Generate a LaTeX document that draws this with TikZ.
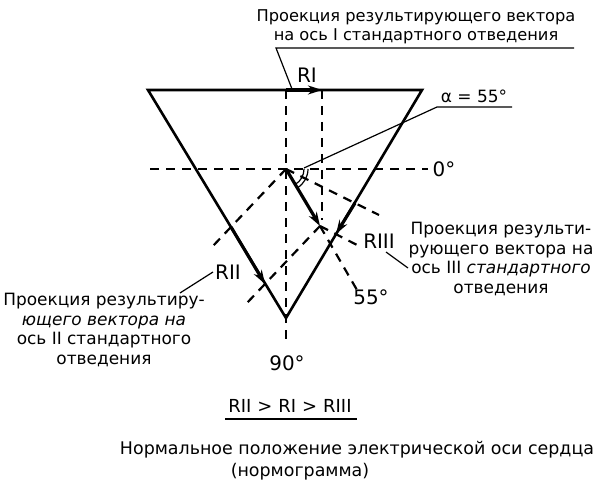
\documentclass[tikz,border=0pt]{standalone}
\usepackage{fontspec}
\setmainfont[FakeBold=0]{DejaVu Sans}
\usetikzlibrary{arrows.meta,calc}
\begin{document}
\begin{tikzpicture}[x=1bp,y=-1bp,
  side/.style={line width=2.6bp},
  dsh/.style={line width=2.2bp,dash pattern=on 9bp off 7bp},
  vec/.style={line width=3.2bp,-{Stealth[length=14bp,width=9bp]}},
  lead/.style={line width=1.2bp},
  txt/.style={inner sep=0pt,font=\fontsize{17}{20}\selectfont},
  toptxt/.style={inner sep=0pt,font=\fontsize{16.3}{19.5}\selectfont},
  captxt/.style={inner sep=0pt,font=\fontsize{17.5}{21}\selectfont},
  lbl/.style={inner sep=0pt,font=\fontsize{20}{22}\selectfont}]
\useasboundingbox (0,0) rectangle (600,498);
% triangle
\coordinate (A) at (148,90);
\coordinate (B) at (422,90);
\coordinate (C) at (286,318);
\coordinate (O) at (286,169);
\coordinate (E) at (320,226);
\draw[side,line join=miter] (A) -- (B) -- (C) -- cycle;
% axes
\coordinate (H0) at (150,169);
\coordinate (H1) at (428,169);
\coordinate (V0) at (286,90);
\coordinate (V1) at (286,346);
\coordinate (W0) at (322,90);
\coordinate (W1) at (322,220);
\draw[dsh] (H0) -- (H1);
\draw[dsh] (V0) -- (V1);
\draw[dsh] (W0) -- (W1);
% projections on lead II (left side)
\coordinate (F2a) at (231,227);
\coordinate (F2b) at (265,284);
\coordinate (G2a) at (212,247);
\coordinate (G2b) at (246,304);
\draw[dsh] (O) -- (G2a);
\draw[dsh] (E) -- (G2b);
% projections on lead III (right side)
\coordinate (F3a) at (355,203);
\coordinate (F3b) at (336,234);
\coordinate (G3a) at (379,215);
\coordinate (G3b) at (359,246);
\draw[dsh] (O) -- (G3a);
\draw[dsh] (E) -- (G3b);
% extension of the axis
\coordinate (X) at (357,290);
\draw[dsh] (E) -- (X);
% vectors
\draw[vec] (O) -- (E);
\draw[vec] (V0) -- (W0);
\draw[vec] (F2a) -- (F2b);
\draw[vec] (F3a) -- (F3b);
% angle arcs
\draw[lead] ($(O)+(18,0)$) arc[start angle=0,end angle=59,radius=18];
\draw[lead] ($(O)+(22,0)$) arc[start angle=0,end angle=59,radius=22];
% labels
\node[toptxt,align=center] (top) at (416,27) {Проекция результирующего вектора\\на ось I стандартного отведения};
\coordinate (T0) at (276,48);
\coordinate (T1) at (574,48);
\coordinate (T2) at (292,89);
\draw[lead] (T1) -- (T0) -- (T2);
\node[lbl] (RI) at (307,75) {RI};
\node[inner sep=0pt,font=\fontsize{17}{20}\selectfont] (alpha) at (474,96) {α = 55°};
\coordinate (L0) at (304,168);
\coordinate (L1) at (437,107);
\coordinate (L2) at (512,107);
\draw[lead] (L0) -- (L1) -- (L2);
\node[lbl] (zero) at (444,169) {0°};
\node[lbl] (n55) at (371,297) {55°};
\node[lbl] (n90) at (287,363) {90°};
\node[lbl] (RIII) at (379,241) {RIII};
\coordinate (R3a) at (386,252);
\coordinate (R3b) at (408,268);
\draw[lead] (R3a) -- (R3b);
\node[txt,align=center] (rtext) at (501,259) {Проекция результи-\\рующего вектора на\\ось III {\itshape стандартного}\\отведения};
\node[lbl] (RII) at (228,272) {RII};
\coordinate (R2a) at (213,272);
\coordinate (R2b) at (180,293);
\draw[lead] (R2a) -- (R2b);
\node[txt,align=center] (ltext) at (104,330) {Проекция результиру-\\{\itshape ющего вектора на}\\ось II стандартного\\отведения};
\node[inner sep=0pt,font=\fontsize{18}{20}\selectfont] (ineq) at (290,406) {RII\,\,>\,\,RI\,\,>\,\,RIII};
\coordinate (U0) at (225,419);
\coordinate (U1) at (357,419);
\draw[lead] (U0) -- (U1);
\node[captxt] (cap1) at (357,450) {Нормальное положение электрической оси сердца};
\node[captxt] (cap2) at (300,472) {(нормограмма)};
\end{tikzpicture}
\end{document}
